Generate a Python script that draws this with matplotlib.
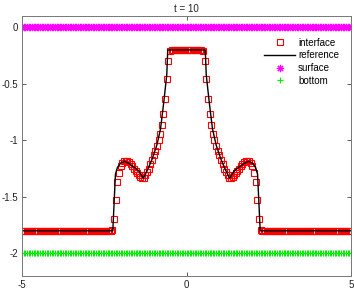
import numpy as np
import matplotlib
matplotlib.use("Agg")
import matplotlib.pyplot as plt

plt.rcParams['font.family'] = ['Liberation Sans', 'DejaVu Sans']
plt.rcParams['axes.unicode_minus'] = False

# grid of the numerical solution
x = np.linspace(-5, 5, 201)

# interface values (left flat, left structure, plateau, right structure, right flat)
left_struct = [-1.80, -1.79, -1.70, -1.53, -1.37, -1.29, -1.23, -1.20, -1.185, -1.18,
               -1.185, -1.195, -1.21, -1.23, -1.25, -1.27, -1.29, -1.31, -1.325, -1.335,
               -1.33, -1.31, -1.28, -1.25, -1.21, -1.17, -1.13, -1.09, -1.05, -1.00,
               -0.94, -0.86, -0.77, -0.63, -0.46, -0.30, -0.21, -0.20]
right_struct = [-0.20, -0.21, -0.30, -0.46, -0.63, -0.77, -0.86, -0.94, -1.00, -1.05,
                -1.09, -1.13, -1.17, -1.21, -1.25, -1.28, -1.31, -1.33, -1.335, -1.325,
                -1.31, -1.29, -1.27, -1.25, -1.23, -1.21, -1.195, -1.185, -1.18, -1.185,
                -1.20, -1.23, -1.29, -1.37, -1.53, -1.70, -1.79, -1.80]
interface = [-1.8] * 54 + left_struct + [-0.2] * 17 + right_struct + [-1.8] * 54

# reference solution
ref_x = [-5, -2.24, -2.2, -2.16, -2.1, -2.0, -1.88, -1.75, -1.6, -1.45, -1.31, -1.2,
         -1.05, -0.9, -0.79, -0.69, -0.6, -0.57, 0.57, 0.6, 0.69, 0.79, 0.9, 1.05,
         1.2, 1.31, 1.45, 1.6, 1.75, 1.88, 2.0, 2.1, 2.16, 2.2, 2.24, 5]
ref_y = [-1.8, -1.8, -1.55, -1.3, -1.24, -1.2, -1.185, -1.205, -1.235, -1.27, -1.335, -1.27,
         -1.17, -1.04, -0.9, -0.66, -0.42, -0.2, -0.2, -0.42, -0.66, -0.9, -1.04, -1.17,
         -1.27, -1.335, -1.27, -1.235, -1.205, -1.185, -1.2, -1.24, -1.3, -1.55, -1.8, -1.8]

surface = [0.0] * len(x)
bottom = [-2.0] * len(x)

xticks = [-5, 0, 5]
yticks = [0, -0.5, -1, -1.5, -2]
ytick_labels = ['0', '-0.5', '-1', '-1.5', '-2']

fig = plt.figure(figsize=(3.54, 2.94), dpi=100)
ax = fig.add_axes([22/354, 1 - 276/294, 329/354, 260/294])

ax.plot(x, interface, ls='none', marker='s', color='red', mfc='none', mec='red',
        ms=4.3, mew=0.8, label='interface')
ax.plot(ref_x, ref_y, '-', color='black', lw=1.0, label='reference')
ax.plot(x, surface, ls='none', marker=(8, 2, 0), color='magenta', ms=5.2, mew=0.8,
        label='surface')
ax.plot(x, bottom, ls='none', marker='+', color='#00ee00', ms=4.2, mew=0.8, label='bottom')

ax.set_xlim(-5, 5)
ax.set_ylim(-2.2, 0.1)
ax.set_xticks(xticks)
ax.set_xticklabels([str(v) for v in xticks])
ax.set_yticks(yticks)
ax.set_yticklabels(ytick_labels)
ax.tick_params(direction='in', length=3, width=0.6, colors='#444444', labelcolor='#222222',
               labelsize=7, top=True, right=True, pad=3)
for s in ax.spines.values():
    s.set_color('#777777')
    s.set_linewidth(0.7)

ax.set_title('t = 10', fontsize=7, pad=3, color='#222222')

leg = ax.legend(loc='upper left', bbox_to_anchor=(264/354, 1 - 37.5/294),
                bbox_transform=fig.transFigure, frameon=False, fontsize=7,
                handlelength=3.2, handletextpad=0.3, borderpad=0, borderaxespad=0,
                labelspacing=0.28)

fig.savefig('out.png', dpi=100)
